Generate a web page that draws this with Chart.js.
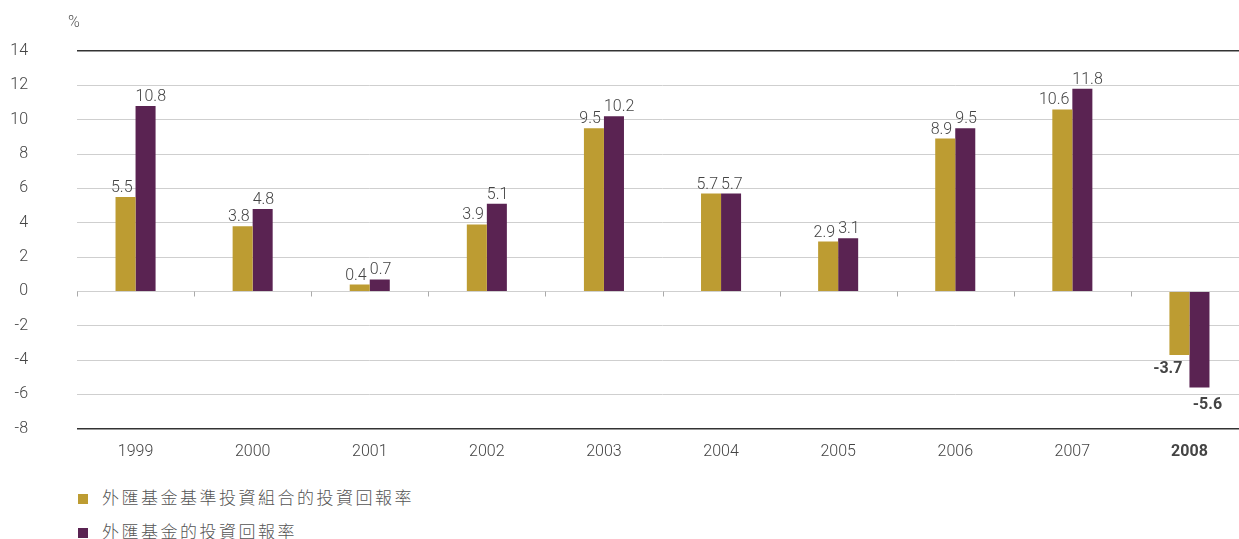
<!DOCTYPE html>
<html>
<head>
<meta charset="utf-8">
<script src="https://cdn.jsdelivr.net/npm/chart.js@4/dist/chart.umd.min.js"></script>
<style>
  html, body { margin: 0; padding: 0; background: #fff; overflow: hidden; }
  #wrap { position: relative; width: 1248px; height: 539px; }
  #chart { position: absolute; left: 0; top: 0; }
  #unit { position: absolute; left: 68px; top: 12px; font: 300 16px Roboto, sans-serif; color: #555; }
  .legend { position: absolute; left: 78px; font: 300 17px "Noto Sans CJK TC", sans-serif; color: #555; letter-spacing: 2.5px; }
  .legend span.sw { display: inline-block; width: 10px; height: 10px; margin-right: 14px; vertical-align: 0px; }
</style>
</head>
<body>
<div id="wrap">
  <canvas id="chart" width="1248" height="476"></canvas>
  <div id="unit">%</div>
  <div id="leg"></div>
</div>
<script>
// Annual returns, percent
const years = ['1999', '2000', '2001', '2002', '2003', '2004', '2005', '2006', '2007', '2008'];
const benchmarkReturns = [5.5, 3.8, 0.4, 3.9, 9.5, 5.7, 2.9, 8.9, 10.6, -3.7];
const fundReturns = [10.8, 4.8, 0.7, 5.1, 10.2, 5.7, 3.1, 9.5, 11.8, -5.6];
const seriesNames = ['外匯基金基準投資組合的投資回報率', '外匯基金的投資回報率'];
const seriesColors = ['#BD9C32', '#5A2352'];
const yTicks = [-8, -6, -4, -2, 0, 2, 4, 6, 8, 10, 12, 14];

const numFont = 'Roboto, sans-serif';

// Value labels: gold ones sit to the left, purple ones to the right of their bars
const valueLabels = {
  id: 'valueLabels',
  afterDatasetsDraw(chart) {
    const ctx = chart.ctx;
    chart.data.datasets.forEach((ds, di) => {
      const meta = chart.getDatasetMeta(di);
      meta.data.forEach((bar, i) => {
        const v = ds.data[i];
        const txt = v.toFixed(1);
        ctx.save();
        ctx.fillStyle = '#444';
        if (v >= 0) {
          ctx.font = '300 16px ' + numFont;
          ctx.textBaseline = 'bottom';
          if (di === 0) { ctx.textAlign = 'right'; ctx.fillText(txt, bar.x + 7, bar.y - 1); }
          else { ctx.textAlign = 'left'; ctx.fillText(txt, bar.x - 10, bar.y - 1); }
        } else {
          ctx.font = 'bold 16px ' + numFont;
          ctx.textBaseline = 'top';
          if (di === 0) { ctx.textAlign = 'right'; ctx.fillText(txt, bar.x + 3, bar.y + 6); }
          else { ctx.textAlign = 'center'; ctx.fillText(txt, bar.x + 8, bar.y + 9); }
        }
        ctx.restore();
      });
    });
  }
};

// Small downward ticks on the zero line between categories
const zeroTicks = {
  id: 'zeroTicks',
  afterDatasetsDraw(chart) {
    const xs = chart.scales.x, ys = chart.scales.y;
    const y0 = Math.round(ys.getPixelForValue(0)) + 0.5;
    const ctx = chart.ctx;
    ctx.save();
    ctx.strokeStyle = '#aaa';
    ctx.lineWidth = 1;
    for (let i = 0; i <= years.length; i++) {
      const x = Math.round(xs.getPixelForValue(i - 0.5)) + 0.5;
      ctx.beginPath();
      ctx.moveTo(x, y0);
      ctx.lineTo(x, y0 + 5);
      ctx.stroke();
    }
    ctx.restore();
  }
};

new Chart(document.getElementById('chart'), {
  type: 'bar',
  data: {
    labels: years,
    datasets: [
      { label: seriesNames[0], data: benchmarkReturns, backgroundColor: seriesColors[0] },
      { label: seriesNames[1], data: fundReturns, backgroundColor: seriesColors[1] }
    ]
  },
  options: {
    responsive: false,
    animation: false,
    layout: { padding: { top: 51, right: 0, left: 0, bottom: 0 } },
    datasets: { bar: { categoryPercentage: 0.342, barPercentage: 1.0 } },
    plugins: { legend: { display: false }, tooltip: { enabled: false } },
    scales: {
      x: {
        offset: true,
        grid: { display: false, drawTicks: false },
        border: { display: false },
        ticks: {
          padding: 14,
          color: '#444',
          font: (c) => ({ family: numFont, size: 16, weight: c.index === 9 ? 'bold' : '300' })
        }
      },
      y: {
        min: -8, max: 14,
        afterBuildTicks: (s) => { s.ticks = yTicks.map(v => ({ value: v })); },
        afterFit: (s) => { s.width = 77; s.paddingTop = 0; s.paddingBottom = 0; },
        grid: {
          drawTicks: false,
          color: (c) => (c.tick && (c.tick.value === 14 || c.tick.value === -8)) ? '#333' : '#cfcfcf',
          lineWidth: (c) => (c.tick && (c.tick.value === 14 || c.tick.value === -8)) ? 1.6 : 1
        },
        border: { display: false },
        ticks: {
          padding: 49,
          color: '#444',
          font: { family: numFont, size: 16, weight: '300' }
        }
      }
    }
  },
  plugins: [valueLabels, zeroTicks]
});

// Vertical legend below the chart
const leg = document.getElementById('leg');
seriesNames.forEach((name, i) => {
  const d = document.createElement('div');
  d.className = 'legend';
  d.style.top = (484 + i * 34) + 'px';
  d.innerHTML = '<span class="sw" style="background:' + seriesColors[i] + '"></span>' + name;
  leg.appendChild(d);
});
</script>
</body>
</html>
